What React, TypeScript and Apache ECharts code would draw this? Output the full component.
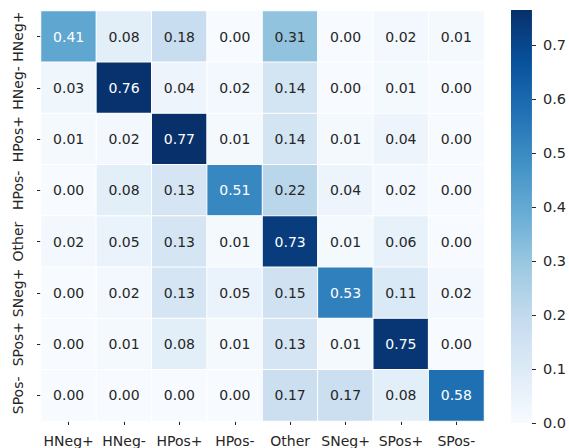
import React, { useEffect, useRef } from "react";
import * as echarts from "echarts";

const categories = ["HNeg+", "HNeg-", "HPos+", "HPos-", "Other", "SNeg+", "SPos+", "SPos-"];

const rowHNegPlus = [0.41, 0.08, 0.18, 0.0, 0.31, 0.0, 0.02, 0.01];
const rowHNegMinus = [0.03, 0.76, 0.04, 0.02, 0.14, 0.0, 0.01, 0.0];
const rowHPosPlus = [0.01, 0.02, 0.77, 0.01, 0.14, 0.01, 0.04, 0.0];
const rowHPosMinus = [0.0, 0.08, 0.13, 0.51, 0.22, 0.04, 0.02, 0.0];
const rowOther = [0.02, 0.05, 0.13, 0.01, 0.73, 0.01, 0.06, 0.0];
const rowSNegPlus = [0.0, 0.02, 0.13, 0.05, 0.15, 0.53, 0.11, 0.02];
const rowSPosPlus = [0.0, 0.01, 0.08, 0.01, 0.13, 0.01, 0.75, 0.0];
const rowSPosMinus = [0.0, 0.0, 0.0, 0.0, 0.17, 0.17, 0.08, 0.58];

const rows = [
  rowHNegPlus,
  rowHNegMinus,
  rowHPosPlus,
  rowHPosMinus,
  rowOther,
  rowSNegPlus,
  rowSPosPlus,
  rowSPosMinus,
];

const colorbarTicks = [0, 0.1, 0.2, 0.3, 0.4, 0.5, 0.6, 0.7];
const vMin = 0;
const vMax = 0.765;

const blues = [
  "#f7fbff",
  "#deebf7",
  "#c6dbef",
  "#9ecae1",
  "#6baed6",
  "#4292c6",
  "#2171b5",
  "#08519c",
  "#08306b",
];

const FONT = "DejaVu Sans";
const TEXT = "#262626";

export default function App() {
  const ref = useRef<HTMLDivElement>(null);

  useEffect(() => {
    if (!ref.current) return;
    const chart = echarts.init(ref.current, undefined, { renderer: "svg" });

    const heatData: any[] = [];
    rows.forEach((row, yi) => {
      row.forEach((v, xi) => {
        heatData.push({
          value: [xi, yi, v],
          label: { color: v > 0.36 ? "#ffffff" : TEXT },
        });
      });
    });

    const gradStops = blues
      .map((c, i) => ({ offset: 1 - i / (blues.length - 1), color: c }))
      .reverse();

    chart.setOption({
      animation: false,
      backgroundColor: "#ffffff",
      textStyle: { fontFamily: FONT },
      grid: [
        { left: 41, top: 11, width: 443, height: 412, containLabel: false },
        { left: 511, top: 10, width: 21, height: 413, containLabel: false },
      ],
      xAxis: [
        {
          type: "category",
          gridIndex: 0,
          data: categories,
          position: "bottom",
          axisLine: { show: false },
          axisTick: { show: true, alignWithLabel: true, length: 4, lineStyle: { color: TEXT, width: 1 } },
          axisLabel: { color: TEXT, fontSize: 14, fontFamily: FONT, margin: 13, interval: 0 },
          splitLine: { show: false },
        },
        {
          type: "category",
          gridIndex: 1,
          data: [""],
          show: false,
        },
      ],
      yAxis: [
        {
          type: "category",
          gridIndex: 0,
          data: categories,
          inverse: true,
          axisLine: { show: false },
          axisTick: { show: true, alignWithLabel: true, length: 4, lineStyle: { color: TEXT, width: 1 } },
          axisLabel: { color: TEXT, fontSize: 14, fontFamily: FONT, margin: 16, rotate: 90, interval: 0 },
          splitLine: { show: false },
        },
        {
          type: "value",
          gridIndex: 1,
          min: vMin,
          max: vMax,
          position: "right",
          axisLine: { show: false },
          splitLine: { show: false },
          axisTick: {
            show: true,
            length: 4,
            customValues: colorbarTicks,
            lineStyle: { color: TEXT, width: 1 },
          },
          axisLabel: {
            color: TEXT,
            fontSize: 14.5,
            fontFamily: FONT,
            margin: 11,
            customValues: colorbarTicks,
            formatter: (v: number) => v.toFixed(1),
          },
        },
      ],
      visualMap: {
        type: "continuous",
        show: false,
        min: vMin,
        max: vMax,
        seriesIndex: 0,
        dimension: 2,
        inRange: { color: blues },
      },
      series: [
        {
          type: "heatmap",
          xAxisIndex: 0,
          yAxisIndex: 0,
          data: heatData,
          itemStyle: { borderColor: "#ffffff", borderWidth: 1 },
          label: {
            show: true,
            fontSize: 14,
            fontFamily: FONT,
            formatter: (p: any) => (p.value[2] as number).toFixed(2),
          },
          emphasis: { disabled: true },
        },
        {
          type: "bar",
          xAxisIndex: 1,
          yAxisIndex: 1,
          data: [vMax],
          barWidth: "100%",
          itemStyle: {
            color: new echarts.graphic.LinearGradient(0, 0, 0, 1, gradStops),
          },
          silent: true,
        },
      ],
    });

    return () => chart.dispose();
  }, []);

  return (
    <div
      ref={ref}
      style={{ position: "fixed", left: 0, top: 0, width: 569, height: 448, background: "#fff" }}
    />
  );
}
